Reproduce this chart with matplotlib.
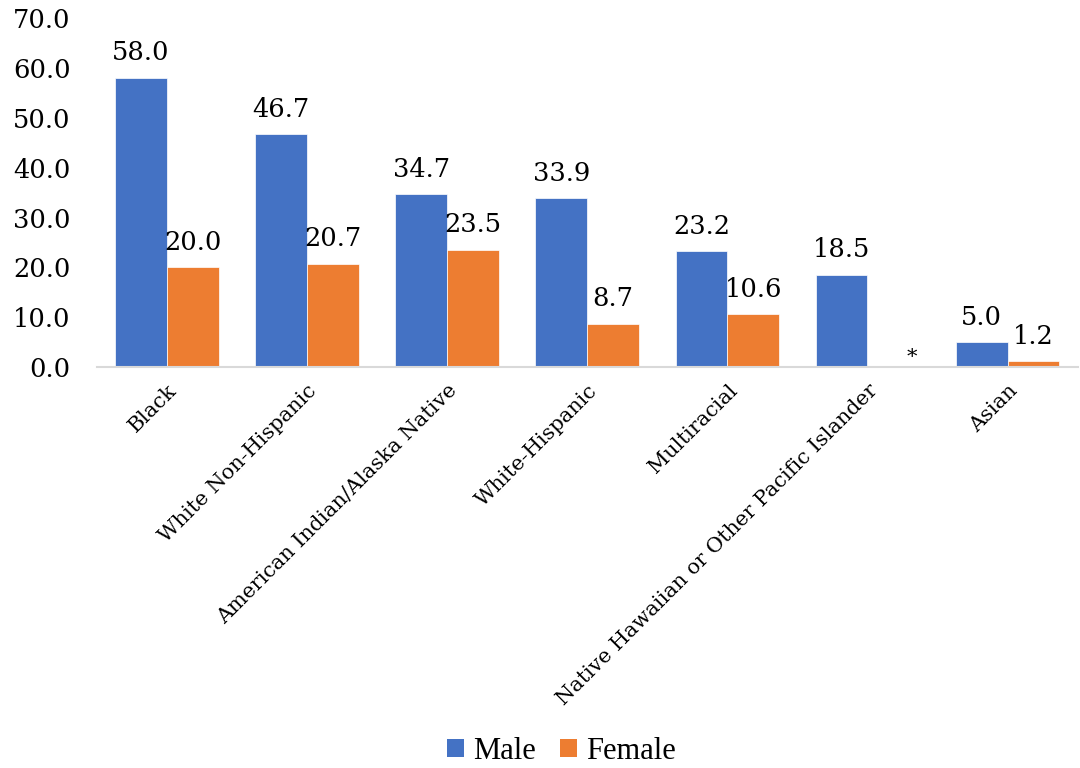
import matplotlib
matplotlib.use("Agg")
import matplotlib.pyplot as plt
from matplotlib.patches import Patch
import numpy as np

categories = ["Black", "White Non-Hispanic", "American Indian/Alaska Native",
              "White-Hispanic", "Multiracial",
              "Native Hawaiian or Other Pacific Islander", "Asian"]
male = [58.0, 46.7, 34.7, 33.9, 23.2, 18.5, 5.0]
female = [20.0, 20.7, 23.5, 8.7, 10.6, None, 1.2]
yticks = [0, 10, 20, 30, 40, 50, 60, 70]

BLUE = "#4472C4"
ORANGE = "#ED7D31"
NUM_FONT = "DejaVu Serif"

fig = plt.figure(figsize=(10.8, 7.68), dpi=100)
ax = fig.add_axes([0.0898, 0.522, 0.908, 0.4545])

x = np.arange(len(categories))
w = 0.37

ax.bar(x - w / 2, male, w, color=BLUE, edgecolor="white", linewidth=0.5, zorder=2)
fem_vals = [v if v is not None else 0 for v in female]
ax.bar(x + w / 2, fem_vals, w, color=ORANGE, edgecolor="white", linewidth=0.5, zorder=2)

label_kw = dict(textcoords="offset points", ha="center", va="bottom",
                fontsize=18.5, family=NUM_FONT, color="black")
for xi, v in zip(x, male):
    ax.annotate(f"{v:.1f}", (xi - w / 2, v), xytext=(0, 9), **label_kw)
for xi, v in zip(x, female):
    if v is None:
        ax.annotate("*", (xi + w / 2, 0), xytext=(13, 0),
                    **{**label_kw, "fontsize": 15})
    else:
        ax.annotate(f"{v:.1f}", (xi + w / 2, v), xytext=(0, 9), **label_kw)

ax.set_xlim(-0.5, len(categories) - 0.5)
ax.set_ylim(0, 70)
ax.set_yticks(yticks)
ax.set_yticklabels([f"{t:.1f}" for t in yticks], fontsize=18.5, family=NUM_FONT)
ax.set_xticks(x)
ax.set_xticklabels(categories, rotation=45, ha="right", rotation_mode="anchor",
                   fontsize=15, family=NUM_FONT)
ax.tick_params(axis="both", length=0)
ax.tick_params(axis="y", pad=19)
ax.tick_params(axis="x", pad=10)

for side in ["top", "right", "left"]:
    ax.spines[side].set_visible(False)
ax.spines["bottom"].set_color("#D9D9D9")
ax.spines["bottom"].set_linewidth(1.5)

handles = [Patch(facecolor=BLUE, label="Male"), Patch(facecolor=ORANGE, label="Female")]
fig.legend(handles=handles, loc="center", bbox_to_anchor=(0.52, 0.022), ncol=2,
           frameon=False, prop={"family": "Liberation Serif", "size": 22},
           handlelength=0.55, handleheight=0.55, handletextpad=0.3, columnspacing=0.8)

fig.savefig("out.png", dpi=100)
